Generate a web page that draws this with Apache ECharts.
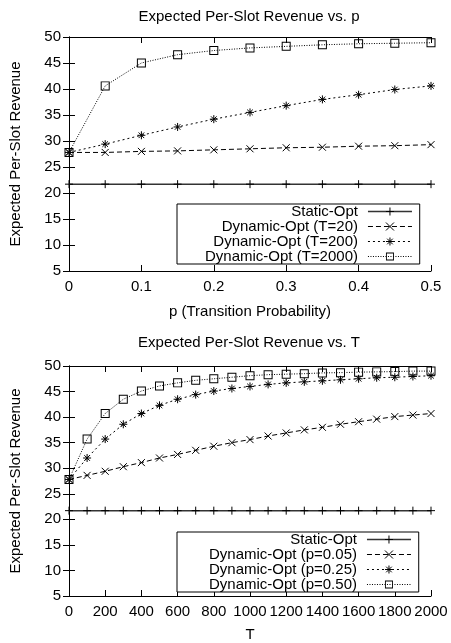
<!DOCTYPE html>
<html>
<head>
<meta charset="utf-8">
<script src="https://cdn.jsdelivr.net/npm/echarts@6/dist/echarts.min.js"></script>
<style>
  html, body { margin: 0; padding: 0; background: #fff; }
  #chart { width: 451px; height: 643px; }
</style>
</head>
<body>
<div id="chart"></div>
<script>
// top panel: revenue vs transition probability p
const pValues = [0, 0.05, 0.1, 0.15, 0.2, 0.25, 0.3, 0.35, 0.4, 0.45, 0.5];
const staticOptP = [21.7, 21.7, 21.7, 21.7, 21.7, 21.7, 21.7, 21.7, 21.7, 21.7, 21.7];
const dynT20 = [27.8, 27.8, 28.0, 28.1, 28.3, 28.5, 28.7, 28.8, 29.0, 29.1, 29.3];
const dynT200 = [27.8, 29.4, 31.1, 32.7, 34.2, 35.5, 36.8, 38.0, 38.9, 39.9, 40.6];
const dynT2000 = [27.8, 40.6, 45.0, 46.6, 47.4, 47.9, 48.2, 48.5, 48.7, 48.8, 48.9];

// bottom panel: revenue vs horizon T
const tValues = [0, 100, 200, 300, 400, 500, 600, 700, 800, 900, 1000,
  1100, 1200, 1300, 1400, 1500, 1600, 1700, 1800, 1900, 2000];
const staticOptT = [21.7, 21.7, 21.7, 21.7, 21.7, 21.7, 21.7, 21.7, 21.7, 21.7, 21.7,
  21.7, 21.7, 21.7, 21.7, 21.7, 21.7, 21.7, 21.7, 21.7, 21.7];
const dynP05 = [27.8, 28.6, 29.4, 30.3, 31.1, 32.0, 32.7, 33.5, 34.3, 35.0, 35.6,
  36.3, 36.9, 37.5, 38.0, 38.6, 39.1, 39.6, 40.1, 40.4, 40.7];
const dynP25 = [27.8, 32.0, 35.7, 38.6, 40.7, 42.3, 43.5, 44.4, 45.1, 45.6, 46.0,
  46.4, 46.7, 46.9, 47.1, 47.3, 47.5, 47.7, 47.8, 47.95, 48.1];
const dynP50 = [27.8, 35.7, 40.7, 43.5, 45.1, 46.1, 46.7, 47.2, 47.5, 47.8, 48.1,
  48.3, 48.4, 48.5, 48.65, 48.7, 48.8, 48.85, 48.9, 49.0, 49.0];

const titles = ['Expected Per-Slot Revenue vs. p', 'Expected Per-Slot Revenue vs. T'];
const xNames = ['p (Transition Probability)', 'T'];
const yName = 'Expected Per-Slot Revenue';
const namesP = ['Static-Opt', 'Dynamic-Opt (T=20)', 'Dynamic-Opt (T=200)', 'Dynamic-Opt (T=2000)'];
const namesT = ['Static-Opt', 'Dynamic-Opt (p=0.05)', 'Dynamic-Opt (p=0.25)', 'Dynamic-Opt (p=0.50)'];

const FONT = 'Liberation Sans, Arial, sans-serif';
const FS = 15;

// gnuplot-like point types
const SYM_PLUS = 'path://M0,5L10,5M5,0L5,10';
const SYM_CROSS = 'path://M0,0L10,10M10,0L0,10';
const SYM_STAR = 'path://M0,5L10,5M5,0L5,10M1.5,1.5L8.5,8.5M8.5,1.5L1.5,8.5';
const SYM_BOX = 'path://M0,0L10,0L10,10L0,10ZM1.1,1.1L1.1,8.9L8.9,8.9L8.9,1.1Z';

const styles = [
  { symbol: SYM_PLUS, size: 8, color: '#333', width: 1.5, type: 'solid', border: 1 },
  { symbol: SYM_CROSS, size: 7, color: '#000', width: 1, type: [5, 3], border: 1 },
  { symbol: SYM_STAR, size: 8, color: '#000', width: 1, type: [2, 3], border: 1 },
  { symbol: SYM_BOX, size: 9, color: '#000', width: 1, type: [1, 1.5], border: 0 }
];

const zip = (xs, ys) => xs.map((x, i) => [x, ys[i]]);

function makeSeries(name, xs, ys, st, gridIdx) {
  return {
    name: name,
    type: 'line',
    xAxisIndex: gridIdx * 2,
    yAxisIndex: gridIdx * 2,
    data: zip(xs, ys),
    symbol: st.symbol,
    symbolSize: st.size,
    symbolKeepAspect: true,
    showAllSymbol: true,
    clip: false,
    lineStyle: { color: st.color, width: st.width, type: st.type },
    itemStyle: { color: '#000', borderColor: '#000', borderWidth: st.border },
    emphasis: { disabled: true }
  };
}

function xAxes(gridIdx, max, interval) {
  const base = {
    type: 'value', gridIndex: gridIdx, min: 0, max: max, interval: interval,
    splitLine: { show: false },
    axisLine: { lineStyle: { color: '#000', width: 1 } },
    axisTick: { inside: true, length: 6, lineStyle: { color: '#000' } }
  };
  return [
    Object.assign({}, base, {
      position: 'bottom',
      name: xNames[gridIdx], nameLocation: 'middle', nameGap: gridIdx ? 31 : 33,
      nameTextStyle: { color: '#000', fontSize: FS, fontFamily: FONT },
      axisLabel: { color: '#000', fontSize: FS, fontFamily: FONT, margin: 8,
        formatter: v => String(v) }
    }),
    Object.assign({}, base, { position: 'top', axisLabel: { show: false } })
  ];
}

function yAxes(gridIdx) {
  const base = {
    type: 'value', gridIndex: gridIdx, min: 5, max: 50, interval: 5,
    splitLine: { show: false },
    axisLine: { lineStyle: { color: '#000', width: 1 } },
    axisTick: { inside: true, length: 6, lineStyle: { color: '#000' } }
  };
  return [
    Object.assign({}, base, {
      position: 'left',
      name: yName, nameLocation: 'middle', nameGap: 46,
      nameTextStyle: { color: '#000', fontSize: FS, fontFamily: FONT },
      axisLabel: { color: '#000', fontSize: FS, fontFamily: FONT, margin: 8 }
    }),
    Object.assign({}, base, { position: 'right', axisLabel: { show: false } })
  ];
}

function legend(names, top, padLeft) {
  return {
    data: names.map((n, i) => ({
      name: n,
      lineStyle: { width: styles[i].width, color: styles[i].color, type: styles[i].type },
      itemStyle: { color: '#000', borderColor: '#000', borderWidth: styles[i].border }
    })),
    orient: 'vertical',
    align: 'right',
    left: 177,
    top: top,
    padding: [0, 7, 0, padLeft],
    itemGap: 0,
    itemWidth: 44,
    itemHeight: 10,
    borderColor: '#000',
    borderWidth: 1,
    backgroundColor: '#fff',
    selectedMode: false,
    textStyle: { color: '#000', fontSize: FS, fontFamily: FONT, lineHeight: 15, padding: [0, 5, 0, 0] }
  };
}

const chart = echarts.init(document.getElementById('chart'), null, { renderer: 'canvas' });

chart.setOption({
  animation: false,
  backgroundColor: '#fff',
  title: titles.map((t, i) => ({
    text: t,
    left: 249,
    top: i ? 335 : 9,
    padding: 0,
    textAlign: 'center',
    textStyle: { color: '#000', fontSize: FS, fontWeight: 'normal', fontFamily: FONT }
  })),
  grid: [
    { left: 68, top: 37, width: 363, height: 234 },
    { left: 68, top: 366, width: 363, height: 232 }
  ],
  legend: [legend(namesP, 204, 28), legend(namesT, 532, 32)],
  xAxis: xAxes(0, 0.5, 0.1).concat(xAxes(1, 2000, 200)),
  yAxis: yAxes(0).concat(yAxes(1)),
  series: [
    makeSeries(namesP[0], pValues, staticOptP, styles[0], 0),
    makeSeries(namesP[1], pValues, dynT20, styles[1], 0),
    makeSeries(namesP[2], pValues, dynT200, styles[2], 0),
    makeSeries(namesP[3], pValues, dynT2000, styles[3], 0),
    makeSeries(namesT[0], tValues, staticOptT, styles[0], 1),
    makeSeries(namesT[1], tValues, dynP05, styles[1], 1),
    makeSeries(namesT[2], tValues, dynP25, styles[2], 1),
    makeSeries(namesT[3], tValues, dynP50, styles[3], 1)
  ]
});

window.addEventListener('resize', () => chart.resize());
</script>
</body>
</html>
